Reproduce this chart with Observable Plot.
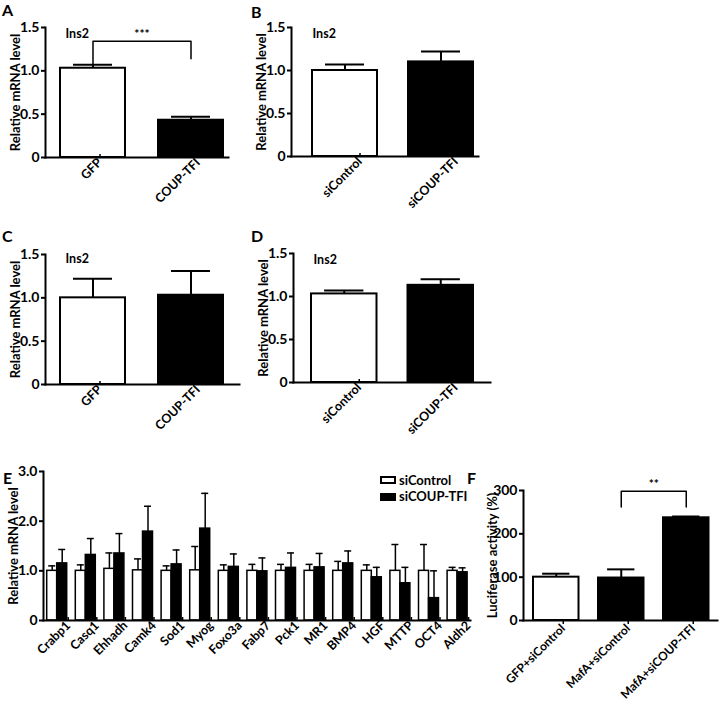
<!DOCTYPE html>
<html><head><meta charset="utf-8">
<script src="https://cdn.jsdelivr.net/npm/d3@7"></script>
<script src="https://cdn.jsdelivr.net/npm/@observablehq/plot@0.6"></script>
<style>
body{margin:0;background:#fff;}
#fig{position:relative;width:726px;height:703px;background:#fff;font-family:Lato,"Open Sans",sans-serif;font-weight:700;color:#000;overflow:hidden}
.panel{position:absolute}
.plabel{position:absolute;font-size:16px;font-weight:700;line-height:18px}
.leg{position:absolute;font-size:13px;font-weight:700;line-height:14px}
.sw{position:absolute;box-sizing:border-box;border:2px solid #000}
</style></head><body><div id="fig"></div>
<script>
// ---------- data ----------
const catsA = ["GFP", "COUP-TFI"];
const meanA = [1.03, 0.43];
const semA  = [0.04, 0.04];
const sigA  = {from: "GFP", to: "COUP-TFI", top: 1.34, leftFoot: 1.08, rightFoot: 1.14, label: "***"};

const catsB = ["siControl", "siCOUP-TFI"];
const meanB = [1.00, 1.10];
const semB  = [0.07, 0.12];

const catsC = ["GFP", "COUP-TFI"];
const meanC = [1.00, 1.03];
const semC  = [0.22, 0.28];

const catsD = ["siControl", "siCOUP-TFI"];
const meanD = [1.03, 1.13];
const semD  = [0.04, 0.07];

const genesE = ["Crabp1","Casq1","Ehhadh","Camk4","Sod1","Myog","Foxo3a","Fabp7","Pck1","MR1","BMP4","HGF","MTTP","OCT4","Aldh2"];
const ctrlMeanE = [1.00,1.00,1.04,1.01,1.00,1.01,1.00,1.00,1.00,1.00,1.00,1.00,1.00,1.00,1.00];
const ctrlSemE  = [0.10,0.12,0.32,0.23,0.10,0.48,0.12,0.13,0.13,0.13,0.19,0.12,0.53,0.53,0.07];
const koMeanE   = [1.15,1.32,1.35,1.79,1.13,1.85,1.08,0.99,1.06,1.07,1.15,0.87,0.75,0.45,0.97];
const koSemE    = [0.28,0.33,0.40,0.51,0.29,0.71,0.26,0.27,0.30,0.28,0.25,0.20,0.32,0.55,0.09];
const seriesE = ["siControl", "siCOUP-TFI"];

const catsF = ["GFP+siControl", "MafA+siControl", "MafA+siCOUP-TFI"];
const meanF = [100, 98, 237];
const semF  = [8, 20, 3];
const sigF  = {from: "MafA+siControl", to: "MafA+siCOUP-TFI", top: 298, leftFoot: 262, rightFoot: 262, label: "**"};

const ticksMRNA = [0, 0.5, 1.0, 1.5];
const ticksE = [0, 1, 2, 3];
const ticksF = [0, 100, 200, 300];

// ---------- helpers ----------
const fig = document.getElementById("fig");
const FONT = "Lato, 'Open Sans', sans-serif";
function place(node, left, top, w, h) {
  const d = document.createElement("div");
  d.className = "panel";
  Object.assign(d.style, {left: left + "px", top: top + "px", width: w + "px", height: h + "px"});
  d.appendChild(node); fig.appendChild(d);
}
function bandFit(n, r0, r1, firstStart, step, bw) {
  const used = step * (n - 1) + bw, L = (r1 - r0) - used;
  return {paddingInner: 1 - bw / step, paddingOuter: L / (2 * step),
          align: Math.max(0, Math.min(1, (firstStart - r0) / L)), round: false};
}
function addLabel(txt, left, top) {
  const d = document.createElement("div");
  d.className = "plabel"; d.textContent = txt;
  d.style.left = left + "px"; d.style.top = top + "px";
  fig.appendChild(d);
}
const fmt1 = d => d === 0 ? "0" : d.toFixed(1);
const SVGSTYLE = {fontFamily: FONT, fontWeight: "bold", fontSize: "13px", background: "transparent", color: "black", overflow: "visible"};

function yTitle(txt, off) {
  return Plot.text([txt], {frameAnchor: "left", rotate: -90, dx: -off, fontSize: 13, fontWeight: 700,
                           textAnchor: "middle", lineAnchor: "middle"});
}

function bracketMarks(sig, step) {
  const pts = [[sig.from, sig.leftFoot], [sig.from, sig.top], [sig.to, sig.top], [sig.to, sig.rightFoot]];
  return [
    Plot.line(pts, {x: d => d[0], y: d => d[1], stroke: "black", strokeWidth: 1.5}),
    Plot.text([sig], {x: "from", y: "top", text: "label", dx: step / 2, dy: -3, lineAnchor: "bottom",
                      fontSize: 12, fontWeight: 700})
  ];
}

function twoBar(cfg, cats, mean, sem, sig) {
  const data = cats.map((c, i) => ({c, m: mean[i], s: sem[i]}));
  const capInset = cfg.bw * 0.2;
  const marks = [
    Plot.barY(data, {x: "c", y: "m", fill: d => d.c === cats[0] ? "white" : "black", stroke: "black", strokeWidth: 2}),
    Plot.ruleX(data, {x: "c", y1: "m", y2: d => d.m + d.s, stroke: "black", strokeWidth: 2}),
    Plot.tickY(data, {x: "c", y: d => d.m + d.s, stroke: "black", strokeWidth: 2, insetLeft: capInset, insetRight: capInset}),
    Plot.frame({anchor: "left", strokeWidth: 2}),
    Plot.frame({anchor: "bottom", strokeWidth: 2}),
    Plot.axisY({ticks: ticksMRNA, tickFormat: fmt1, tickSize: 4, tickPadding: 2, strokeWidth: 2, fontSize: 14, label: null}),
    Plot.axisX({tickSize: 4, strokeWidth: 1.5, tickRotate: -45, fontSize: 12.5, tickPadding: 2, label: null, dx: cfg.ldx, dy: cfg.ldy}),
    yTitle("Relative mRNA level", 30),
    Plot.text(["Ins2"], {frameAnchor: "top-left", dx: cfg.insDx, dy: cfg.insDy, textAnchor: "start", lineAnchor: "middle", fontSize: 12.5, fontWeight: 700})
  ];
  if (sig) marks.push(...bracketMarks(sig, cfg.step));
  const svg = Plot.plot({
    width: cfg.w, height: cfg.h,
    marginLeft: cfg.axisX - cfg.left, marginRight: cfg.left + cfg.w - cfg.xEnd,
    marginTop: cfg.yTop - cfg.top, marginBottom: cfg.top + cfg.h - cfg.yBottom,
    style: SVGSTYLE,
    x: {domain: cats, ...bandFit(cats.length, cfg.axisX, cfg.xEnd, cfg.firstStart, cfg.step, cfg.bw)},
    y: {domain: [0, 1.5]},
    color: {type: "identity"},
    marks
  });
  place(svg, cfg.left, cfg.top, cfg.w, cfg.h);
}

// ---------- panels A-D ----------
twoBar({left: 0, top: 0, w: 245, h: 220, axisX: 45, xEnd: 228, yTop: 27, yBottom: 157, firstStart: 60, step: 98, bw: 65, insDx: 20, insDy: 6, ldx: 7, ldy: -3}, catsA, meanA, semA, sigA);
twoBar({left: 245, top: 0, w: 250, h: 220, axisX: 291, xEnd: 478, yTop: 27, yBottom: 156, firstStart: 312, step: 96, bw: 65, insDx: 21, insDy: 6, ldx: 15, ldy: -3}, catsB, meanB, semB, null);
twoBar({left: 0, top: 220, w: 250, h: 220, axisX: 45, xEnd: 239, yTop: 254, yBottom: 384, firstStart: 60, step: 98, bw: 65, insDx: 20, insDy: 4, ldx: 7, ldy: -3}, catsC, meanC, semC, null);
twoBar({left: 245, top: 220, w: 260, h: 220, axisX: 293, xEnd: 490, yTop: 253, yBottom: 382, firstStart: 311, step: 96.5, bw: 65.5, insDx: 20, insDy: 6, ldx: 15, ldy: -3}, catsD, meanD, semD, null);

// ---------- panel E ----------
(function () {
  const cfg = {left: 0, top: 460, w: 480, h: 243, axisX: 43, xEnd: 470, yTop: 471, yBottom: 620, firstStart: 46.7, step: 28.6, bw: 20};
  const bw = cfg.bw, half = 3.5;
  const data = genesE.map((g, i) => ({g, c: ctrlMeanE[i], cs: ctrlSemE[i], k: koMeanE[i], ks: koSemE[i]}));
  const svg = Plot.plot({
    width: cfg.w, height: cfg.h,
    marginLeft: cfg.axisX - cfg.left, marginRight: cfg.left + cfg.w - cfg.xEnd,
    marginTop: cfg.yTop - cfg.top, marginBottom: cfg.top + cfg.h - cfg.yBottom,
    style: SVGSTYLE,
    x: {domain: genesE, ...bandFit(genesE.length, cfg.axisX, cfg.xEnd, cfg.firstStart, cfg.step, bw)},
    y: {domain: [0, 3]},
    marks: [
      Plot.barY(data, {x: "g", y: "c", fill: "white", stroke: "black", strokeWidth: 1.5, insetRight: bw / 2}),
      Plot.barY(data, {x: "g", y: "k", fill: "black", stroke: "black", strokeWidth: 1.5, insetLeft: bw / 2}),
      Plot.ruleX(data, {x: "g", y1: "c", y2: d => d.c + d.cs, dx: -bw / 4, stroke: "black", strokeWidth: 1.5}),
      Plot.tickY(data, {x: "g", y: d => d.c + d.cs, insetLeft: bw / 4 - half, insetRight: 3 * bw / 4 - half, stroke: "black", strokeWidth: 1.5}),
      Plot.ruleX(data, {x: "g", y1: "k", y2: d => d.k + d.ks, dx: bw / 4, stroke: "black", strokeWidth: 1.5}),
      Plot.tickY(data, {x: "g", y: d => d.k + d.ks, insetLeft: 3 * bw / 4 - half, insetRight: bw / 4 - half, stroke: "black", strokeWidth: 1.5}),
      Plot.frame({anchor: "left", strokeWidth: 2}),
      Plot.frame({anchor: "bottom", strokeWidth: 2}),
      Plot.axisY({ticks: ticksE, tickFormat: fmt1, tickSize: 4, tickPadding: 2, strokeWidth: 2, fontSize: 14, label: null}),
      Plot.axisX({tickSize: 4, strokeWidth: 1.5, tickRotate: -45, fontSize: 12.5, tickPadding: 2, label: null, dx: 11, dy: -3}),
      yTitle("Relative mRNA level", 30)
    ]
  });
  place(svg, cfg.left, cfg.top, cfg.w, cfg.h);
  // legend
  const rows = [{name: seriesE[0], bg: "white", y: 480}, {name: seriesE[1], bg: "black", y: 496.5}];
  rows.forEach(r => {
    const sw = document.createElement("div");
    sw.className = "sw";
    Object.assign(sw.style, {left: "380px", top: (r.y - 4) + "px", width: "16px", height: "8px", background: r.bg});
    fig.appendChild(sw);
    const t = document.createElement("div");
    t.className = "leg"; t.textContent = r.name;
    Object.assign(t.style, {left: "399px", top: (r.y - 7.5) + "px"});
    fig.appendChild(t);
  });
})();

// ---------- panel F ----------
(function () {
  const cfg = {left: 480, top: 460, w: 246, h: 243, axisX: 523, xEnd: 717, yTop: 490, yBottom: 620, firstStart: 533, step: 65, bw: 45.5};
  const data = catsF.map((c, i) => ({c, m: meanF[i], s: semF[i]}));
  const capInset = cfg.bw * 0.2;
  const svg = Plot.plot({
    width: cfg.w, height: cfg.h,
    marginLeft: cfg.axisX - cfg.left, marginRight: cfg.left + cfg.w - cfg.xEnd,
    marginTop: cfg.yTop - cfg.top, marginBottom: cfg.top + cfg.h - cfg.yBottom,
    style: SVGSTYLE,
    x: {domain: catsF, ...bandFit(catsF.length, cfg.axisX, cfg.xEnd, cfg.firstStart, cfg.step, cfg.bw)},
    y: {domain: [0, 300]},
    color: {type: "identity"},
    marks: [
      Plot.barY(data, {x: "c", y: "m", fill: d => d.c === catsF[0] ? "white" : "black", stroke: "black", strokeWidth: 2}),
      Plot.ruleX(data, {x: "c", y1: "m", y2: d => d.m + d.s, stroke: "black", strokeWidth: 2}),
      Plot.tickY(data, {x: "c", y: d => d.m + d.s, stroke: "black", strokeWidth: 2, insetLeft: capInset, insetRight: capInset}),
      Plot.frame({anchor: "left", strokeWidth: 2}),
      Plot.frame({anchor: "bottom", strokeWidth: 2}),
      Plot.axisY({ticks: ticksF, tickSize: 4, tickPadding: 2, strokeWidth: 2, fontSize: 14, label: null}),
      Plot.axisX({tickSize: 4, strokeWidth: 1.5, tickRotate: -45, fontSize: 12, tickPadding: 2, label: null, dx: 7, dy: 0}),
      yTitle("Luciferase activity (%)", 31),
      ...bracketMarks(sigF, cfg.step)
    ]
  });
  place(svg, cfg.left, cfg.top, cfg.w, cfg.h);
})();

// ---------- panel letters ----------
addLabel("A", 2, 1);
addLabel("B", 251, 3);
addLabel("C", 2, 227);
addLabel("D", 251, 227);
addLabel("E", 3, 469);
addLabel("F", 467, 469);
</script>
</body></html>
